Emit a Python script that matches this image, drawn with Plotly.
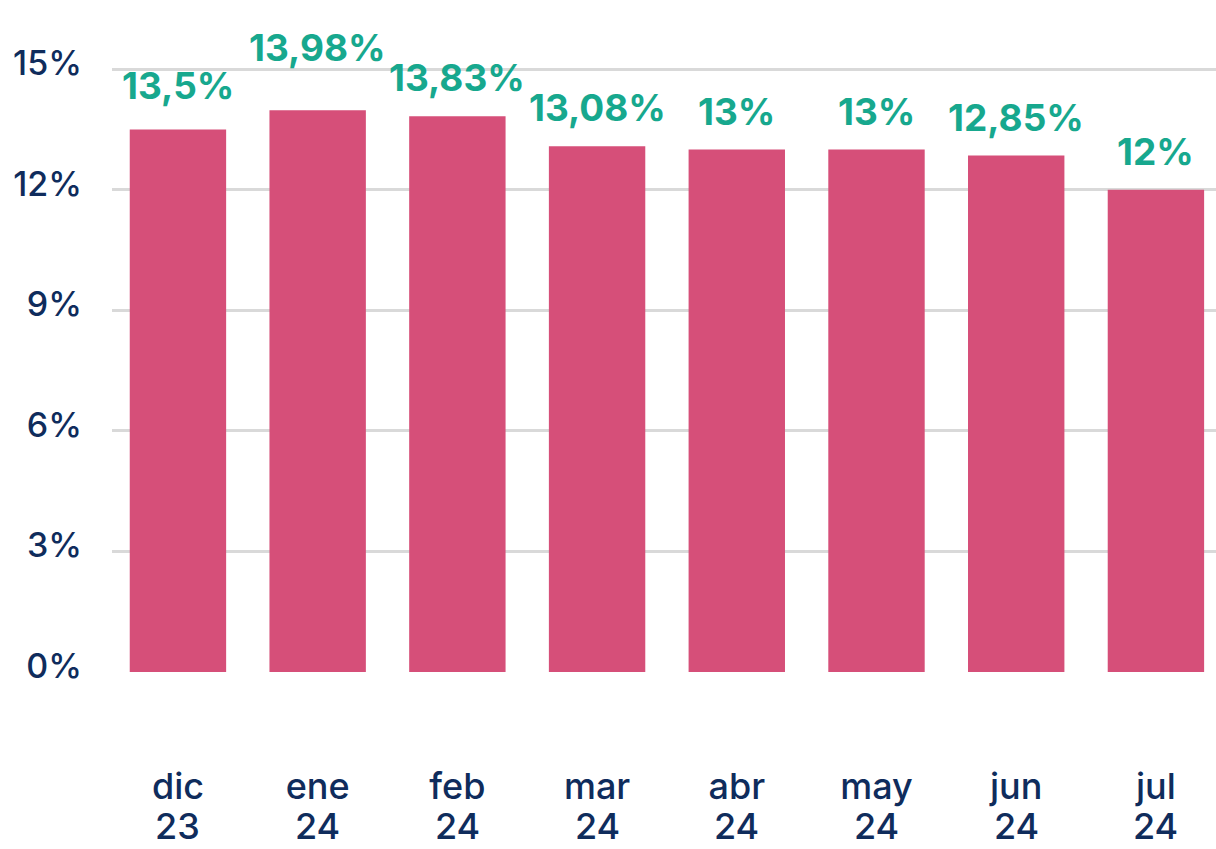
import plotly.graph_objects as go

months = ["dic", "ene", "feb", "mar", "abr", "may", "jun", "jul"]
years = ["23", "24", "24", "24", "24", "24", "24", "24"]
values = [13.5, 13.98, 13.83, 13.08, 13.0, 13.0, 12.85, 12.0]
labels = ["13,5%", "13,98%", "13,83%", "13,08%", "13%", "13%", "12,85%", "12%"]
y_ticks = [0, 3, 6, 9, 12, 15]
y_ticktext = ["0%", "3%", "6%", "9%", "12%", "15%"]

categories = [f"{m} {y}" for m, y in zip(months, years)]

BAR = "#D64F79"
TEAL = "#17A88E"
NAVY = "#0F2C5C"
FONT = "Inter"

# label placement style: base lift above the bar, extra lift for crowded labels
LABEL_LIFT = 14
EXTRA_LIFT = {"ene 24": 24, "dic 23": 5}

fig = go.Figure()
fig.add_trace(go.Bar(x=categories, y=values, marker=dict(color=BAR, line=dict(width=0)),
                     hoverinfo="skip"))

for c, v, t in zip(categories, values, labels):
    fig.add_annotation(x=c, y=v, text=t, showarrow=False, yanchor="bottom",
                       yshift=LABEL_LIFT + EXTRA_LIFT.get(c, 0),
                       font=dict(family=FONT, size=37, color=TEAL, weight="bold"))

# second line of the category labels (year)
for c, y in zip(categories, years):
    fig.add_annotation(x=c, y=0, yref="paper", text=y, showarrow=False, yanchor="top",
                       yshift=-131, borderpad=0,
                       font=dict(family=FONT, size=36, color=NAVY, weight=500))

fig.update_layout(
    width=1216, height=849,
    margin=dict(l=112, r=0, t=68, b=177),
    paper_bgcolor="white", plot_bgcolor="white",
    bargap=0.31, showlegend=False,
    font=dict(family=FONT, color=NAVY, size=36),
)
fig.update_xaxes(range=[-0.472, 7.43], showgrid=False, showline=False, zeroline=False,
                 automargin=False, tickmode="array", tickvals=categories, ticktext=months,
                 ticks="", ticklabelstandoff=90,
                 tickfont=dict(family=FONT, size=36, color=NAVY, weight=500))
fig.update_yaxes(range=[0, 15.03], tickvals=y_ticks, ticktext=y_ticktext,
                 showgrid=True, gridcolor="#D9D9D9", gridwidth=3, zeroline=False,
                 showline=False, automargin=False, ticks="", ticklabelstandoff=29,
                 ticklabelshift=-6,
                 tickfont=dict(family=FONT, size=34, color=NAVY, weight=500))

fig.write_html("out.html", config={"displayModeBar": False, "staticPlot": True},
               post_script="document.body.style.margin='0';document.body.style.overflow='hidden';")
